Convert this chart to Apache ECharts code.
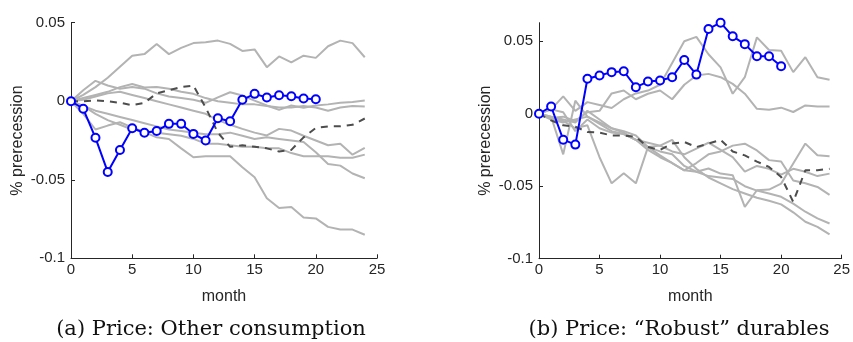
<!DOCTYPE html>
<html><head><meta charset="utf-8">
<script src="https://cdn.jsdelivr.net/npm/echarts@6/dist/echarts.min.js"></script>
<style>html,body{margin:0;padding:0;background:#fff}#c{width:853px;height:342px}</style>
</head><body><div id="c"></div>
<script>
const months = [0,1,2,3,4,5,6,7,8,9,10,11,12,13,14,15,16,17,18,19,20,21,22,23,24];
const xTicks = [0,5,10,15,20,25];
const yTicks = [0.05,0,-0.05,-0.1];
const captionA = '(a) Price: Other consumption';
const captionB = '(b) Price: \u201cRobust\u201d durables';

// Panel (a)
const leftGray1 = [0,.004,.009,.015,.022,.029,.030,.0365,.030,.034,.037,.0375,.0386,.0365,.032,.033,.0217,.0285,.0248,.029,.0276,.035,.0386,.037,.028];
const leftGray2 = [0,.007,.013,.010,.008,.009,.008,.005,.003,.002,.001,-.001,.0025,.0057,.0036,.0004,-.0027,-.0055,-.0027,-.0042,-.0027,-.002,-.001,-.0005,.0004];
const leftGray3 = [0,.002,.004,.006,.009,.011,.0087,.009,.008,.006,.0047,.002,0,-.001,-.002,-.002,-.003,-.004,-.004,-.003,-.004,-.006,-.004,-.003,-.0034];
const leftGray4 = [0,-.003,-.008,-.012,-.015,-.018,-.019,-.020,-.021,-.022,-.024,-.027,-.027,-.028,-.029,-.029,-.030,-.030,-.033,-.035,-.035,-.035,-.036,-.036,-.034];
const leftGray5 = [0,.001,.003,.005,.006,.004,.002,0,-.002,-.004,-.006,-.008,-.012,-.015,-.0176,-.020,-.0218,-.0176,-.0187,-.022,-.025,-.028,-.027,-.034,-.0297];
const leftGray6 = [0,-.003,-.006,-.008,-.010,-.012,-.014,-.016,-.018,-.019,-.020,-.021,-.021,-.020,-.022,-.024,-.023,-.024,-.025,-.026,-.0325,-.040,-.041,-.046,-.049];
const leftGray7 = [0,-.008,-.018,-.0155,-.0134,-.0166,-.0197,-.023,-.024,-.030,-.0357,-.035,-.035,-.035,-.042,-.0484,-.0618,-.068,-.0674,-.074,-.0746,-.080,-.0817,-.0817,-.085];
const leftDashed = [0,0,.0005,0,-.001,-.0025,-.001,.005,.007,.009,.010,-.004,-.020,-.029,-.028,-.029,-.030,-.032,-.031,-.023,-.017,-.016,-.016,-.015,-.011];
const leftBlue = [0,-.0048,-.0233,-.045,-.031,-.0172,-.0201,-.0189,-.0144,-.0144,-.0208,-.025,-.0108,-.0127,.0009,.0047,.0024,.0038,.0032,.0017,.0013];

// Panel (b)
const rightGray1 = [0,.003,.012,.002,.008,.006,.004,.010,.014,.016,.020,.035,.050,.053,.041,.032,.0138,.0252,.0527,.044,.0435,.0287,.039,.0252,.0234];
const rightGray2 = [0,-.003,-.002,-.005,.001,.002,.014,.016,.010,.0138,.016,.010,.020,.0264,.0275,.0252,.0206,.0138,.0034,.0028,.0042,.0012,.0057,.005,.005];
const rightGray3 = [0,-.002,-.028,.009,-.002,-.006,-.010,-.013,-.018,-.025,-.030,-.034,-.039,-.040,-.0378,-.0413,-.0424,-.0642,-.0528,-.0523,-.0482,-.0344,-.0206,-.0287,-.0294];
const rightGray4 = [0,-.003,-.005,-.010,-.008,-.030,-.048,-.041,-.048,-.023,-.022,-.026,-.028,-.024,-.020,-.025,-.030,-.040,-.036,-.038,-.042,-.038,-.040,-.043,-.0413];
const rightGray5 = [0,-.004,-.006,-.004,-.002,-.007,-.012,-.014,-.018,-.023,-.0287,-.034,-.039,-.034,-.028,-.026,-.022,-.0207,-.0253,-.032,-.033,-.046,-.048,-.0505,-.056];
const rightGray6 = [0,-.002,-.004,-.006,.002,-.004,-.010,-.012,-.015,-.023,-.026,-.028,-.036,-.040,-.043,-.044,-.045,-.050,-.053,-.055,-.0573,-.062,-.0676,-.0722,-.0757];
const rightGray7 = [0,.003,.001,-.012,-.004,-.010,-.013,-.014,-.018,-.020,-.022,-.018,-.030,-.038,-.044,-.048,-.052,-.055,-.058,-.060,-.0625,-.068,-.0745,-.078,-.0832];
const rightDashed = [0,-.0046,-.008,-.009,-.0126,-.013,-.015,-.015,-.016,-.023,-.025,-.0206,-.0195,-.023,-.0206,-.018,-.026,-.0287,-.033,-.0367,-.0436,-.0608,-.039,-.039,-.038];
const rightBlue = [0,.005,-.0179,-.0213,.0241,.0264,.0287,.0293,.0183,.0222,.0229,.0252,.0371,.027,.0585,.0628,.0534,.048,.0397,.0397,.0328];

const pair = arr => arr.map((v,i)=>[months[i], v]);
const axisColor = '#262626';
const tickFont = {fontFamily:'Liberation Sans, Arial, sans-serif', fontSize:15, color:axisColor};

function xAx(gi){
  return {type:'value', gridIndex:gi, min:0, max:25, interval:5,
    name:'month', nameLocation:'middle', nameGap:30,
    nameTextStyle:{fontFamily:'Liberation Sans, Arial, sans-serif', fontSize:16, color:axisColor},
    axisLine:{onZero:false, lineStyle:{color:axisColor,width:1}},
    axisTick:{inside:true,length:4,lineStyle:{color:axisColor}},
    axisLabel:Object.assign({margin:4, formatter:v=>xTicks.includes(v)?String(v):''}, tickFont),
    splitLine:{show:false}};
}
function yAx(gi,max){
  return {type:'value', gridIndex:gi, min:-0.1, max:max, interval:0.05,
    name:'% prerecession', nameLocation:'middle', nameGap:45, nameRotate:90,
    nameTextStyle:{fontFamily:'Liberation Sans, Arial, sans-serif', fontSize:16, color:axisColor},
    axisLine:{show:true,onZero:false,lineStyle:{color:axisColor,width:1}},
    axisTick:{show:true,inside:true,length:4,lineStyle:{color:axisColor}},
    axisLabel:Object.assign({margin:6, showMaxLabel:max===0.05, formatter:v=>{
      const t = yTicks.find(k=>Math.abs(k-v)<1e-9); return t===undefined?'':String(t);}}, tickFont),
    splitLine:{show:false}};
}
function grayS(arr,gi){
  return {type:'line', xAxisIndex:gi, yAxisIndex:gi, data:pair(arr), showSymbol:false, symbol:'none',
    lineStyle:{color:'#b3b3b3', width:2}, silent:true, animation:false, z:1};
}
function dashS(arr,gi){
  return {type:'line', xAxisIndex:gi, yAxisIndex:gi, data:pair(arr), symbol:'none',
    lineStyle:{color:'#4d4d4d', width:2, type:[7,6]}, silent:true, animation:false, z:2};
}
function blueS(arr,gi){
  return {type:'line', xAxisIndex:gi, yAxisIndex:gi, data:pair(arr), symbol:'emptyCircle', symbolSize:8, showSymbol:true,
    lineStyle:{color:'#0000ff', width:2}, itemStyle:{color:'#0000ff', borderColor:'#0000ff', borderWidth:1.8},
    silent:true, animation:false, z:3};
}

const chart = echarts.init(document.getElementById('c'), null, {renderer:'canvas'});
chart.setOption({
  animation:false,
  backgroundColor:'#fff',
  grid:[{left:71, top:22.7, width:306, height:235.6},{left:539, top:22.7, width:306, height:236}],
  xAxis:[xAx(0), xAx(1)],
  yAxis:[yAx(0,0.05), yAx(1,0.0628)],
  graphic:[
    {type:'text', x:211, y:330, style:{text:captionA, fill:'#111', font:'21px "DejaVu Serif", serif', textAlign:'center', textVerticalAlign:'middle'}},
    {type:'text', x:679, y:330, style:{text:captionB, fill:'#111', font:'21px "DejaVu Serif", serif', textAlign:'center', textVerticalAlign:'middle'}}
  ],
  series:[
    grayS(leftGray1,0),grayS(leftGray2,0),grayS(leftGray3,0),grayS(leftGray4,0),grayS(leftGray5,0),grayS(leftGray6,0),grayS(leftGray7,0),
    dashS(leftDashed,0), blueS(leftBlue,0),
    grayS(rightGray1,1),grayS(rightGray2,1),grayS(rightGray3,1),grayS(rightGray4,1),grayS(rightGray5,1),grayS(rightGray6,1),grayS(rightGray7,1),
    dashS(rightDashed,1), blueS(rightBlue,1)
  ]
});
</script></body></html>
